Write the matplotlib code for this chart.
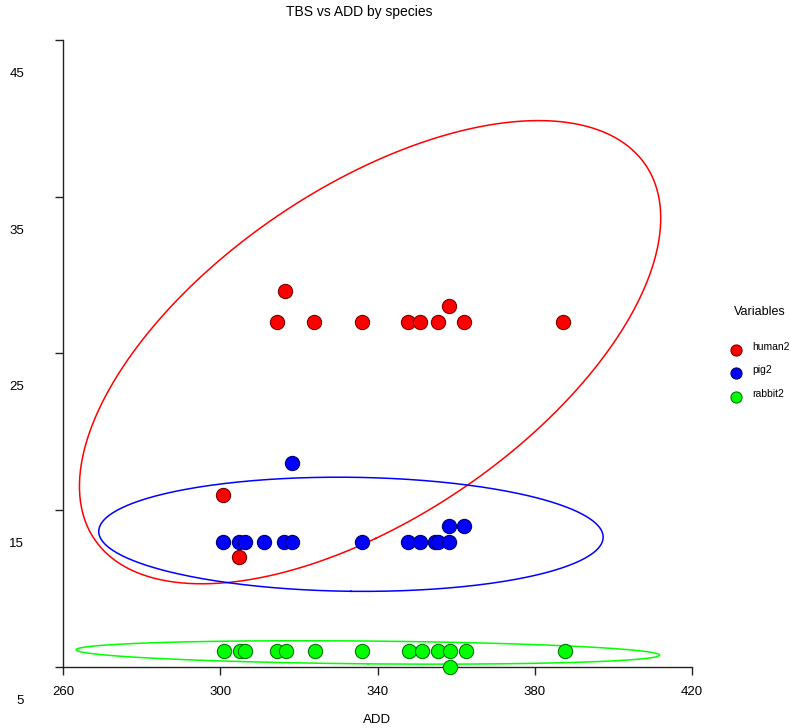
import numpy as np
import matplotlib
matplotlib.use("Agg")
import matplotlib.pyplot as plt
from matplotlib.lines import Line2D
from matplotlib.transforms import blended_transform_factory, offset_copy

plt.rcParams['font.family'] = ['Liberation Sans', 'DejaVu Sans']

# ---------------- data ----------------
species = ["human2", "pig2", "rabbit2"]

add_human = [300.6, 304.8, 314.4, 316.5, 323.8, 336.0, 347.8, 350.8, 355.3, 358.2, 362.1, 387.1]
tbs_human = [16, 12, 27, 29, 27, 27, 27, 27, 27, 28, 27, 27]

add_pig = [300.6, 304.8, 306.3, 311.2, 316.3, 318.3, 318.3, 336.0, 347.8, 350.8, 354.5, 355.3, 358.2, 358.2, 362.1]
tbs_pig = [13, 13, 13, 13, 13, 13, 18, 13, 13, 13, 13, 13, 13, 14, 14]

add_rabbit = [300.9, 305.1, 306.4, 314.5, 316.8, 324.0, 336.1, 348.1, 351.2, 355.5, 358.5, 362.5, 387.7, 358.5]
tbs_rabbit = [6, 6, 6, 6, 6, 6, 6, 6, 6, 6, 6, 6, 6, 5]

x_ticks = [260, 300, 340, 380, 420]
y_ticks = [5, 15, 25, 35, 45]

fill_colors = ["#ff0000", "#0000ff", "#00ff00"]
edge_colors = ["#7a0000", "#00006e", "#007a00"]
CONF = 0.98

# ---------------- figure ----------------
W, H = 791, 728
fig = plt.figure(figsize=(W / 100, H / 100), dpi=100)
ax = fig.add_axes([63 / W, (H - 667) / H, 629 / W, 627 / H])
ax.set_xlim(260, 420)
ax.set_ylim(5, 45)

for s in ["top", "right"]:
    ax.spines[s].set_visible(False)
for s in ["left", "bottom"]:
    ax.spines[s].set_linewidth(1.0)
    ax.spines[s].set_color("#222222")

ax.set_xticks(x_ticks)
ax.set_xticklabels([str(v) for v in x_ticks])
ax.set_yticks(y_ticks)
ax.set_yticklabels([])
ax.tick_params(direction="out", length=5.5, width=1.0, color="#222222")
ax.tick_params(axis="x", labelsize=9.5, pad=8)

# y tick labels drawn shifted below their ticks, as in the reference
ytr = offset_copy(blended_transform_factory(ax.transAxes, ax.transData),
                  fig=fig, x=-39, y=-34, units="dots")
for v in y_ticks:
    ax.text(0, v, str(v), transform=ytr, ha="right", va="center",
            fontsize=9.5, clip_on=False)

groups = [(add_human, tbs_human), (add_pig, tbs_pig), (add_rabbit, tbs_rabbit)]

# confidence ellipses computed from each group's data
c = np.sqrt(-2.0 * np.log(1.0 - CONF))
t = np.linspace(0, 2 * np.pi, 400)
for (xs, ys), col in zip(groups, fill_colors):
    pts = np.column_stack([xs, ys]).astype(float)
    mu = pts.mean(axis=0)
    cov = np.cov(pts, rowvar=False)
    vals, vecs = np.linalg.eigh(cov)
    circ = np.vstack([np.cos(t), np.sin(t)])
    ell = (vecs @ (np.sqrt(vals)[:, None] * circ)) * c + mu[:, None]
    ax.plot(ell[0], ell[1], color=col, lw=1.1, zorder=2)

for (xs, ys), fc, ec in zip(groups, fill_colors, edge_colors):
    ax.scatter(xs, ys, s=105, c=fc, edgecolors=ec, linewidths=0.8,
               zorder=5, clip_on=False)

ax.set_xlabel("ADD", fontsize=9.5, labelpad=12)

fig.text(359 / W, 1 - 12 / H, "TBS vs ADD by species", ha="center", va="center",
         fontsize=10)

# legend
fig.text(760 / W, 1 - 312 / H, "Variables", ha="center", va="center", fontsize=9)
leg_y = [350, 373, 397]
for name, fc, ec, yy in zip(species, fill_colors, edge_colors, leg_y):
    fig.add_artist(Line2D([736 / W], [1 - yy / H], marker="o", markersize=8,
                          markerfacecolor=fc, markeredgecolor=ec,
                          markeredgewidth=0.8, linestyle="none",
                          transform=fig.transFigure))
    fig.text(752 / W, 1 - (yy - 3) / H, name, ha="left", va="center", fontsize=7.5)

fig.savefig("out.png", dpi=100)
